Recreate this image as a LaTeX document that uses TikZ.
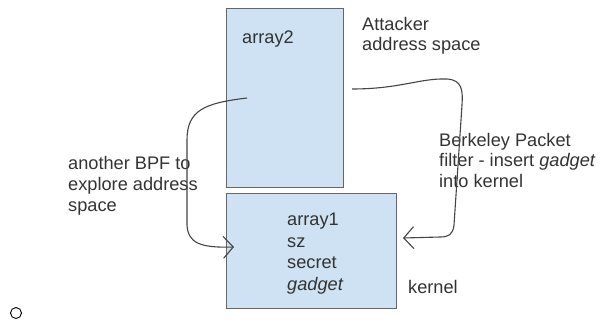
\documentclass[tikz,border=0pt]{standalone}
\usepackage{fontspec}
\setmainfont{Liberation Sans}
\usetikzlibrary{arrows.meta}
\definecolor{boxblue}{HTML}{CFE2F3}
\definecolor{boxline}{HTML}{666666}
\definecolor{pen}{HTML}{444444}
\definecolor{txt}{HTML}{333333}
\begin{document}
\begin{tikzpicture}[x=1pt, y=-1pt,
    membox/.style = {draw=boxline, fill=boxblue, line width=1.2pt, inner sep=0pt},
    lbl/.style = {text=txt, font=\fontsize{18.2}{21}\selectfont, align=left, anchor=base west, inner sep=0pt},
    pencurve/.style = {draw=pen, line width=1.1pt, -{Straight Barb[length=10pt, width=22pt, line width=1.1pt]}}]

    \useasboundingbox (0,0) rectangle (600,322);

    % memory areas
    \node[membox, anchor=north west, minimum width=117pt, minimum height=179pt] (user) at (226,8) {};
    \node[membox, anchor=north west, minimum width=170pt, minimum height=115pt] (kern) at (226,193) {};

    % labels (base = last line)
    \node[lbl] (arraytwo) at (242,43) {array2};
    \node[lbl, font=\fontsize{18.2}{19.5}\selectfont] (attacker) at (362,50) {Attacker\\address space};
    \node[lbl] (explore) at (68,211) {another BPF to\\explore address\\space};
    \node[lbl, font=\fontsize{18.2}{20.5}\selectfont] (berkeley) at (439,187) {Berkeley Packet\\filter - insert \textit{gadget}\\into kernel};
    \node[lbl, font=\fontsize{18.2}{21.5}\selectfont] (contents) at (287,290) {array1\\sz\\secret\\\textit{gadget}};
    \node[lbl] (kernel) at (408,293) {kernel};
    \node[draw=black, circle, line width=0.9pt, minimum size=11pt, inner sep=0pt] (bullet) at (16,313) {};

    % hand drawn arrows
    \coordinate (leftfrom) at (247,98);
    \coordinate (leftto) at (234,247);
    \coordinate (rightfrom) at (352,89);
    \coordinate (rightto) at (403,238);

    \draw[pencurve] (leftfrom) .. controls (205,103) and (187,110) .. (187,140)
        -- (187,225) .. controls (188,243) and (200,248) .. (leftto);
    \draw[pencurve] (rightfrom) .. controls (400,89) and (420,78) .. (447,79)
        .. controls (462,80) and (463,90) .. (462,105)
        -- (454,225) .. controls (453,235) and (448,237) .. (440,237) -- (rightto);

\end{tikzpicture}
\end{document}
